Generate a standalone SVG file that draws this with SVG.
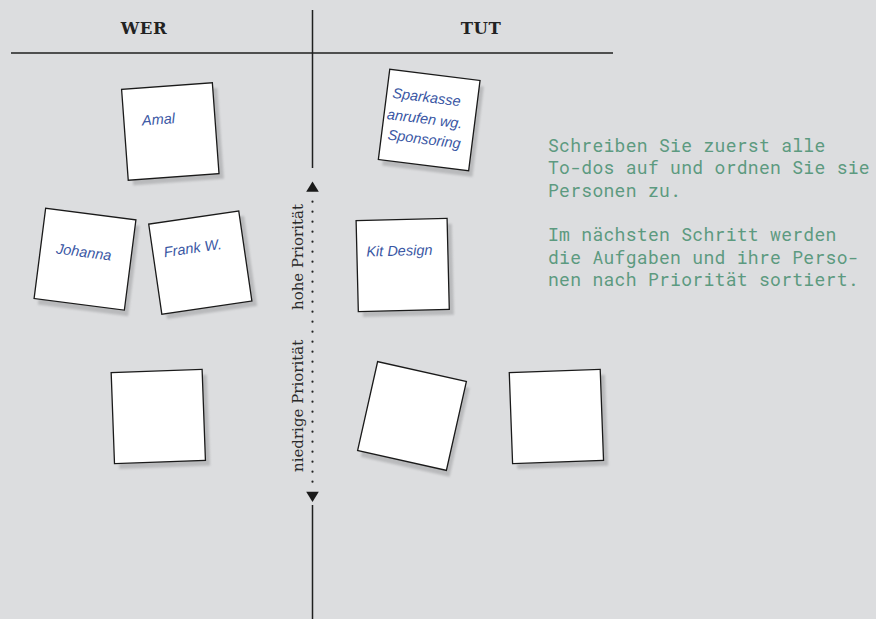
<svg xmlns="http://www.w3.org/2000/svg" width="876" height="619" viewBox="0 0 876 619">
  <defs>
    <filter id="soft" x="-20%" y="-20%" width="140%" height="140%">
      <feGaussianBlur stdDeviation="1.2"/>
    </filter>
    <g id="sheet">
      <rect class="shadow" x="-41" y="-40" width="91" height="91" filter="url(#soft)"/>
      <rect class="paper" x="-45.5" y="-45.5" width="91" height="91"/>
    </g>
  </defs>
  <style>
    .bg { fill: #dcdddf; }
    .rule { stroke: #1f1f1f; stroke-width: 1.5; fill: none; }
    .head { font-family: "DejaVu Serif", "Liberation Serif", serif; font-weight: bold; font-size: 16.5px; letter-spacing: 0.6px; fill: #222; text-anchor: middle; }
    .axis { font-family: "DejaVu Serif", "Liberation Serif", serif; font-size: 15px; fill: #2a2a2a; }
    .dots { stroke: #222; stroke-width: 2.2; stroke-linecap: round; stroke-dasharray: 0 10; fill: none; }
    .tip { fill: #1a1a1a; }
    .shadow { fill: #aeafb1; opacity: 0.75; }
    .paper { fill: #ffffff; stroke: #1a1a1a; stroke-width: 1.3; }
    .hand { font-family: "Liberation Sans", "DejaVu Sans", sans-serif; font-style: italic; font-size: 14.5px; fill: #3a57a4; text-anchor: middle; }
    .note-text { font-family: "Roboto Mono", "DejaVu Sans Mono", "Liberation Mono", monospace; font-size: 18px; letter-spacing: 0.3px; fill: #5c9a80; }
  </style>

  <rect class="bg" x="0" y="0" width="876" height="619"/>

  <!-- column headers and axis lines -->
  <g id="grid">
    <line class="rule" x1="11" y1="53" x2="613" y2="53"/>
    <line class="rule" x1="312.5" y1="10" x2="312.5" y2="168"/>
    <line class="rule" x1="312.5" y1="505" x2="312.5" y2="619"/>
    <text class="head" x="144" y="34">WER</text>
    <text class="head" x="481" y="34">TUT</text>
  </g>

  <!-- priority axis -->
  <g id="connectors">
    <line class="dots" x1="312.5" y1="201.7" x2="312.5" y2="482"/>
    <polygon class="tip" points="312.5,181.5 318.8,191.7 306.2,191.7"/>
    <polygon class="tip" points="306.2,491.7 318.8,491.7 312.5,501.9"/>
    <text class="axis" transform="translate(302.5 310) rotate(-90)">hohe Priorität</text>
    <text class="axis" transform="translate(302.5 472) rotate(-90)">niedrige Priorität</text>
  </g>

  <!-- sticky notes: people -->
  <g id="note-amal" transform="translate(170.3 131.5) rotate(-4.2)">
    <use href="#sheet"/>
    <text class="hand" x="-11" y="-8">Amal</text>
  </g>
  <g id="note-johanna" transform="translate(85 259.2) rotate(7.3)">
    <use href="#sheet"/>
    <text class="hand" x="-2" y="-2">Johanna</text>
  </g>
  <g id="note-frank" transform="translate(200.3 262.6) rotate(-8.3)">
    <use href="#sheet"/>
    <text class="hand" x="-5.5" y="-10.5">Frank W.</text>
  </g>
  <g id="note-empty-left" transform="translate(158.3 416.5) rotate(-2.1)">
    <use href="#sheet"/>
  </g>

  <!-- sticky notes: tasks -->
  <g id="note-sparkasse" transform="translate(429.2 120) rotate(7.2)">
    <use href="#sheet"/>
    <text class="hand" x="-5.5" y="-17.4">Sparkasse</text>
    <text class="hand" x="-4.5" y="4.3" font-size="13.5">anrufen wg.</text>
    <text class="hand" x="-2.5" y="24.5">Sponsoring</text>
  </g>
  <g id="note-kit" transform="translate(402.7 265) rotate(-1.4)">
    <use href="#sheet"/>
    <text class="hand" x="-3" y="-9.4">Kit Design</text>
  </g>
  <g id="note-empty-mid" transform="translate(412 416) rotate(12.7)">
    <use href="#sheet"/>
  </g>
  <g id="note-empty-right" transform="translate(556.4 416.5) rotate(-2.1)">
    <use href="#sheet"/>
  </g>

  <!-- instructions -->
  <g id="instructions">
    <text class="note-text" x="548" y="152">Schreiben Sie zuerst alle</text>
    <text class="note-text" x="548" y="174.3">To-dos auf und ordnen Sie sie</text>
    <text class="note-text" x="548" y="196.6">Personen zu.</text>
    <text class="note-text" x="548" y="241.2">Im nächsten Schritt werden</text>
    <text class="note-text" x="548" y="263.5">die Aufgaben und ihre Perso-</text>
    <text class="note-text" x="548" y="285.8">nen nach Priorität sortiert.</text>
  </g>
</svg>
